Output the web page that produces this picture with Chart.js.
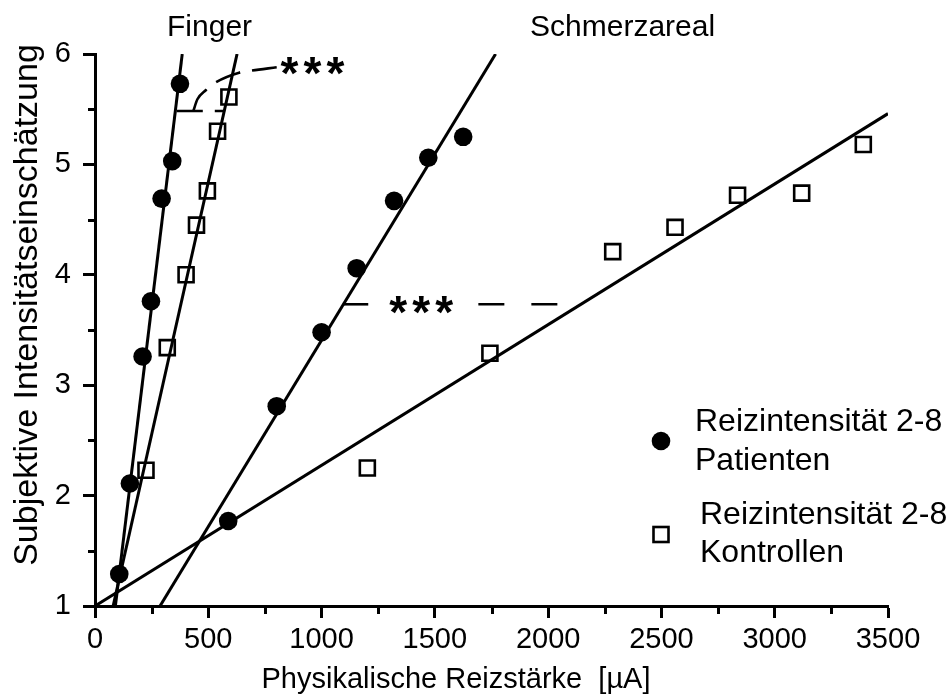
<!DOCTYPE html>
<html>
<head>
<meta charset="utf-8">
<script src="https://cdn.jsdelivr.net/npm/chart.js@4/dist/chart.umd.min.js"></script>
<style>
  html, body { margin: 0; padding: 0; background: #fff; }
  #wrap { width: 949px; height: 700px; }
</style>
</head>
<body>
<div id="wrap"><canvas id="reizChart"></canvas></div>
<script>
// ── Messwerte ──────────────────────────────────────────────────────
const fingerPatX  = [107, 154, 210, 247, 294, 341, 375];
const fingerPatY  = [1.29, 2.11, 3.26, 3.76, 4.69, 5.03, 5.73];
const fingerKonX  = [225, 319, 402, 448, 496, 541, 591];
const fingerKonY  = [2.23, 3.34, 4.00, 4.45, 4.76, 5.30, 5.61];
const schmerzPatX = [588, 802, 1000, 1155, 1320, 1471, 1625];
const schmerzPatY = [1.77, 2.81, 3.48, 4.06, 4.67, 5.06, 5.25];
const schmerzKonX = [1202, 1743, 2285, 2560, 2836, 3119, 3391];
const schmerzKonY = [2.25, 3.29, 4.21, 4.43, 4.72, 4.74, 5.18];

// Regressionsgeraden (Endpunkte x, y)
const fitFingerPat  = [[90, 1], [385, 6]];
const fitFingerKon  = [[80, 1], [627, 6]];
const fitSchmerzPat = [[287, 1], [1768, 6]];
const fitSchmerzKon = [[0, 1], [3500, 5.46]];

// Signifikanz-Markierungen
const sigFingerBar   = [[361, 5.484], [569, 5.484]];
const sigFingerCurve = [[434, 5.484], [452, 5.59], [490, 5.674], [530, 5.74], [636, 5.831], [690, 5.849], [802, 5.88]];
const sigSchmerzA    = [[1096, 3.733], [1206, 3.733]];
const sigSchmerzB    = [[1692, 3.733], [2042, 3.733]];
const sigStars       = [[960, 5.89], [1440, 3.725]];

// Beschriftungen
const xTitle = 'Physikalische Reizstärke  [µA]';
const yTitle = 'Subjektive Intensitätseinschätzung';
const groupLabels = ['Finger', 'Schmerzareal'];
const groupLabelX = [318, 1920];
const legendLines = [['Reizintensität 2-8', 'Patienten'], ['Reizintensität 2-8', 'Kontrollen']];
const xRange = [0, 3500];
const yRange = [1, 6];

const FONT = '"Liberation Sans", Arial, Helvetica, sans-serif';
Chart.defaults.font.family = FONT;
Chart.defaults.color = '#000';

const pts = (xs, ys) => xs.map((x, i) => ({ x, y: ys[i] }));
const xy  = arr => arr.map(([x, y]) => ({ x, y }));

const dots    = { pointStyle: 'circle', pointRadius: 9.3, backgroundColor: '#000', borderColor: '#000', borderWidth: 0 };
const squares = { pointStyle: 'rect', pointRadius: 10.6, backgroundColor: 'rgba(0,0,0,0)', borderColor: '#000', borderWidth: 2.6 };
const fitLine = { showLine: true, pointRadius: 0, borderColor: '#000', borderWidth: 3, fill: false };
const dashLine = { showLine: true, pointRadius: 0, borderColor: '#000', borderWidth: 2.6, borderDash: [26, 12], fill: false };

// ── Zusatzzeichnungen: Achsentitel, Nebenstriche, Sterne, Gruppen, Legende ──
const overlay = {
  id: 'overlay',
  afterDraw(chart) {
    const { ctx, chartArea: a, scales: { x, y } } = chart;
    ctx.save();

    // kurze Zwischenstriche
    ctx.strokeStyle = '#000';
    ctx.lineWidth = 3;
    ctx.beginPath();
    for (let v = 250; v < xRange[1]; v += 500) {
      const px = Math.round(x.getPixelForValue(v)) + 0.5;
      ctx.moveTo(px, a.bottom); ctx.lineTo(px, a.bottom + 8);
    }
    for (let v = 1.5; v < yRange[1]; v += 1) {
      const py = Math.round(y.getPixelForValue(v)) + 0.5;
      ctx.moveTo(a.left, py); ctx.lineTo(a.left - 7, py);
    }
    ctx.stroke();

    // Achsentitel
    ctx.fillStyle = '#000';
    ctx.textAlign = 'center';
    ctx.textBaseline = 'middle';
    ctx.font = '29px ' + FONT;
    ctx.fillText(xTitle, a.left + 361, 680);
    ctx.save();
    ctx.translate(28, a.top + 251);
    ctx.rotate(-Math.PI / 2);
    ctx.font = '34px ' + FONT;
    ctx.fillText(yTitle, 0, 0);
    ctx.restore();

    // Sterne
    ctx.textBaseline = 'alphabetic';
    ctx.font = 'bold 46px ' + FONT;
    const m = ctx.measureText('*');
    const shift = (m.actualBoundingBoxAscent - m.actualBoundingBoxDescent) / 2;
    sigStars.forEach(([sx, sy]) => {
      const cx = x.getPixelForValue(sx), cy = y.getPixelForValue(sy);
      [-23, 0, 23].forEach(d => ctx.fillText('*', cx + d, cy + shift));
    });

    // Gruppenüberschriften
    ctx.font = '30px ' + FONT;
    ctx.textAlign = 'left';
    groupLabels.forEach((t, i) => ctx.fillText(t, x.getPixelForValue(groupLabelX[i]), 36));

    // Legende
    const lx = a.right - 227;
    ctx.beginPath();
    ctx.arc(lx, a.bottom - 165, 9.3, 0, Math.PI * 2);
    ctx.fill();
    ctx.lineWidth = 2.6;
    ctx.strokeRect(lx - 7.5, a.bottom - 79, 15, 15);
    ctx.font = '32px ' + FONT;
    ctx.fillText(legendLines[0][0], lx + 34, a.bottom - 175);
    ctx.fillText(legendLines[0][1], lx + 34, a.bottom - 136);
    ctx.fillText(legendLines[1][0], lx + 39, a.bottom - 82);
    ctx.fillText(legendLines[1][1], lx + 39, a.bottom - 44);
    ctx.restore();
  }
};

new Chart(document.getElementById('reizChart'), {
  type: 'scatter',
  data: {
    datasets: [
      { ...fitLine, data: xy(fitFingerPat) },
      { ...fitLine, data: xy(fitFingerKon) },
      { ...fitLine, data: xy(fitSchmerzPat) },
      { ...fitLine, data: xy(fitSchmerzKon) },
      { ...dashLine, data: xy(sigFingerBar) },
      { ...dashLine, data: xy(sigFingerCurve), tension: 0.4, cubicInterpolationMode: 'monotone' },
      { ...dashLine, data: xy(sigSchmerzA) },
      { ...dashLine, borderDash: [26, 27], data: xy(sigSchmerzB) },
      { ...dots, label: 'Finger Patienten', data: pts(fingerPatX, fingerPatY) },
      { ...squares, label: 'Finger Kontrollen', data: pts(fingerKonX, fingerKonY) },
      { ...dots, label: 'Schmerzareal Patienten', data: pts(schmerzPatX, schmerzPatY) },
      { ...squares, label: 'Schmerzareal Kontrollen', data: pts(schmerzKonX, schmerzKonY) },
    ]
  },
  options: {
    responsive: true,
    maintainAspectRatio: false,
    animation: false,
    layout: { padding: { top: 54, right: 61, bottom: 0, left: 0 } },
    plugins: { legend: { display: false }, tooltip: { enabled: false } },
    scales: {
      x: {
        type: 'linear', min: xRange[0], max: xRange[1],
        afterFit: s => { s.height = 94; },
        ticks: { stepSize: 250, autoSkip: false, maxRotation: 0, padding: 5, color: '#000', font: { size: 29 },
                 callback: v => (v % 500 === 0 ? String(v) : '') },
        grid: { drawOnChartArea: false, drawTicks: true, tickLength: 12, tickWidth: 3,
                tickColor: c => (c.tick && c.tick.value % 500 === 0 ? '#000' : 'rgba(0,0,0,0)') },
        border: { display: true, color: '#000', width: 3 }
      },
      y: {
        type: 'linear', min: yRange[0], max: yRange[1],
        afterFit: s => { s.width = 95; },
        ticks: { stepSize: 0.5, autoSkip: false, padding: 12, color: '#000', font: { size: 29 },
                 callback: v => (Number.isInteger(v) ? String(v) : '') },
        grid: { drawOnChartArea: false, drawTicks: true, tickLength: 12, tickWidth: 3,
                tickColor: c => (c.tick && Number.isInteger(c.tick.value) ? '#000' : 'rgba(0,0,0,0)') },
        border: { display: true, color: '#000', width: 3 }
      }
    }
  },
  plugins: [overlay]
});
</script>
</body>
</html>
